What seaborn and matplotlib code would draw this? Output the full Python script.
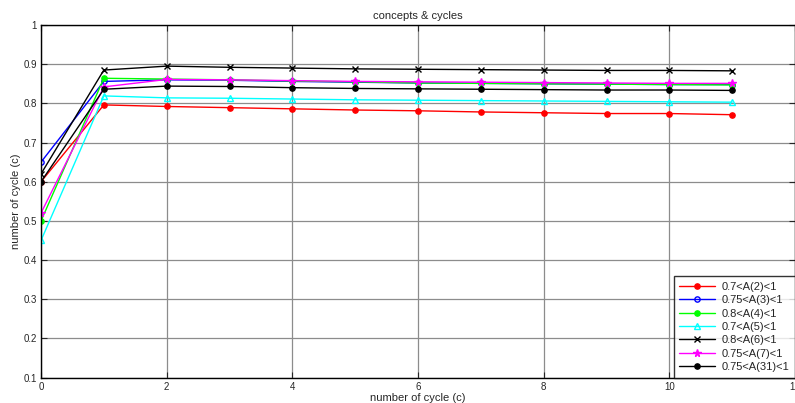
import pandas as pd
import seaborn as sns
import matplotlib.pyplot as plt

# cycle index
cycles = list(range(12))

# series values
a2 = [0.600, 0.796, 0.792, 0.789, 0.786, 0.783, 0.781, 0.778, 0.776, 0.774, 0.774, 0.771]
a3 = [0.650, 0.856, 0.860, 0.859, 0.856, 0.854, 0.852, 0.851, 0.850, 0.849, 0.848, 0.848]
a4 = [0.500, 0.864, 0.862, 0.860, 0.857, 0.855, 0.852, 0.851, 0.850, 0.849, 0.848, 0.847]
a5 = [0.450, 0.819, 0.814, 0.813, 0.811, 0.809, 0.808, 0.807, 0.806, 0.805, 0.804, 0.803]
a6 = [0.620, 0.885, 0.895, 0.892, 0.890, 0.888, 0.887, 0.886, 0.885, 0.884, 0.884, 0.883]
a7 = [0.520, 0.842, 0.861, 0.860, 0.858, 0.856, 0.855, 0.854, 0.853, 0.852, 0.851, 0.851]
a31 = [0.600, 0.836, 0.844, 0.843, 0.840, 0.838, 0.837, 0.836, 0.835, 0.834, 0.834, 0.833]

labels = ['0.7<A(2)<1', '0.75<A(3)<1', '0.8<A(4)<1', '0.7<A(5)<1',
          '0.8<A(6)<1', '0.75<A(7)<1', '0.75<A(31)<1']
series = [a2, a3, a4, a5, a6, a7, a31]

# line styles (colour, marker, filled, size)
styles = [
    ('#ff0000', 'o', True, 3.8),
    ('#0000ff', 'o', False, 3.8),
    ('#00ff00', 'o', True, 3.8),
    ('#00ffff', '^', False, 5.0),
    ('#000000', 'x', True, 5.0),
    ('#ff00ff', '*', True, 5.5),
    ('#000000', 'o', True, 3.8),
]

sns.set_style('ticks')
plt.rcParams['font.family'] = ['Liberation Sans', 'DejaVu Sans']

fig = plt.figure(figsize=(7.95, 4.03), dpi=100)
ax = fig.add_axes([0.0516, 0.063, 0.9484, 0.875])

for lab, vals, (col, mk, filled, ms) in zip(labels, series, styles):
    df = pd.DataFrame({'cycle': cycles, 'value': vals})
    sns.lineplot(data=df, x='cycle', y='value', ax=ax, color=col, marker=mk,
                 markersize=ms,
                 markerfacecolor=col if filled else 'none',
                 markeredgecolor=col, markeredgewidth=1.0,
                 linewidth=1.0, label=lab)

ax.set_xlim(0, 12)
ax.set_ylim(0.1, 1.0)
ax.set_xticks(range(0, 13, 2))
ax.set_yticks([i / 10 for i in range(1, 11)])
ax.set_yticklabels(['0.1', '0.2', '0.3', '0.4', '0.5', '0.6', '0.7', '0.8', '0.9', '1'])
ax.grid(True, color='#8c8c8c', linewidth=0.9)
ax.set_axisbelow(True)
ax.tick_params(direction='in', labelsize=7, length=4, top=True, right=True, pad=3)
for s in ax.spines.values():
    s.set_color('black')
    s.set_linewidth(1.0)

ax.set_title('concepts & cycles', fontsize=8, pad=4)
ax.set_xlabel('number of cycle (c)', fontsize=8, labelpad=1)
ax.set_ylabel('number of cycle (c)', fontsize=8, labelpad=2)

leg = ax.legend(loc='lower right', fontsize=8, frameon=True, fancybox=False,
                borderaxespad=0, handlelength=3.2, labelspacing=0.3,
                borderpad=0.5, handletextpad=0.6)
leg.get_frame().set_edgecolor('black')
leg.get_frame().set_linewidth(1.0)

fig.savefig('out.png', dpi=100)
